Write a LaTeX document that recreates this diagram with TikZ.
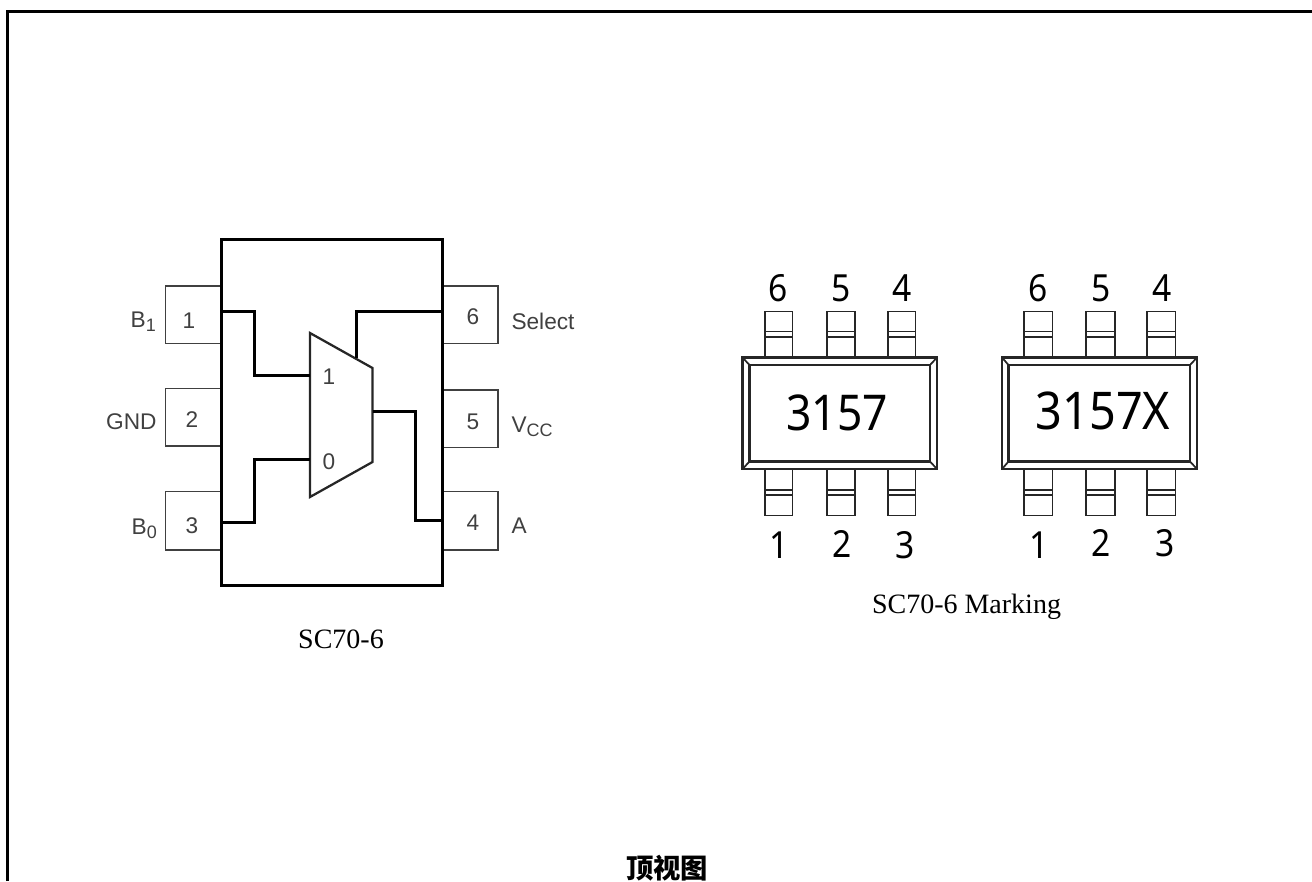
\documentclass[tikz,border=0pt]{standalone}
\usepackage{fontspec}
\setmainfont{Liberation Serif}
\setsansfont{Liberation Sans}
\newfontfamily\markfont[FakeStretch=0.9]{Noto Sans}
\newfontfamily\cjk{Noto Sans CJK SC}
\newcommand{\pinsub}[1]{$_{\mbox{\fontsize{13.5}{15}\selectfont #1}}$}
\tikzset{every picture/.style={line width=0.75pt}}
\tikzset{
	body/.style={line width=2.2pt},
	wire/.style={line width=2.2pt},
	pinbox/.style={draw=black!75,line width=1pt},
	lead/.style={draw=black!85,line width=1.3pt},
	case/.style={draw=black!85,line width=1.8pt},
	pinlabel/.style={inner sep=0pt,font=\sffamily\fontsize{17}{19}\selectfont,text=black!75},
	marknum/.style={inner sep=0.75pt,font=\markfont\fontsize{28}{31}\selectfont},
	marktext/.style={inner sep=0.75pt,font=\markfont\fontsize{37}{40}\selectfont},
	caption/.style={inner sep=0.75pt,font=\fontsize{21}{23}\selectfont},
}

\begin{document}
\begin{tikzpicture}[x=0.75pt,y=0.75pt,yscale=-1,xscale=1]
	\useasboundingbox (0,0) rectangle (1312,881);

	%Shape: Frame
	\draw [line width=2.2pt] (7.5,881) -- (7.5,11.5) -- (1312,11.5);

	%Shape: Left pins
	\draw [pinbox] (222,286) -- (165.5,286) -- (165.5,343.5) -- (222,343.5);
	\draw [pinbox] (222,388.5) -- (165.5,388.5) -- (165.5,446) -- (222,446);
	\draw [pinbox] (222,491.5) -- (165.5,491.5) -- (165.5,550) -- (222,550);
	%Shape: Right pins
	\draw [pinbox] (442,286) -- (498,286) -- (498,343.5) -- (442,343.5);
	\draw [pinbox] (442,390) -- (498,390) -- (498,447.5) -- (442,447.5);
	\draw [pinbox] (442,491.5) -- (498,491.5) -- (498,550) -- (442,550);
	%Shape: Package
	\draw [body] (221.5,239.5) rectangle (442.5,585.5);

	%Shape: Mux
	\draw [line width=1.7pt,draw=black!85] (310,333) -- (372.5,368) -- (372.5,462) -- (310,497) -- cycle;
	\coordinate (muxone) at (310,375.5);
	\coordinate (muxzero) at (310,459.5);
	\coordinate (muxsel) at (356.5,358);
	\coordinate (muxout) at (372.5,411.5);
	\coordinate (pinone) at (222,311.5);
	\coordinate (pinthree) at (222,522.5);
	\coordinate (pinsix) at (442,311.5);
	\coordinate (pinfour) at (442,520.5);
	%Shape: Wires
	\draw [wire] (pinone) -| (254.5,375.5) -- (muxone);
	\draw [wire] (pinthree) -| (254.5,459.5) -- (muxzero);
	\draw [wire] (pinsix) -| (muxsel);
	\draw [wire] (pinfour) -| (415.5,411.5) -- (muxout);

	% Text Node
	\node [pinlabel] (numone) at (189,321) {1};
	\node [pinlabel] (numtwo) at (192,420) {2};
	\node [pinlabel] (numthree) at (192,526) {3};
	\node [pinlabel] (numsix) at (473,317) {6};
	\node [pinlabel] (numfive) at (473,422) {5};
	\node [pinlabel] (numfour) at (473,523) {4};
	\node [pinlabel] (muxlabelone) at (329,377) {1};
	\node [pinlabel] (muxlabelzero) at (329,462) {0};
	\node [pinlabel,anchor=base east] (labelbone) at (157,327) {B\pinsub{1}};
	\node [pinlabel,anchor=base east] (labelgnd) at (157,429) {GND};
	\node [pinlabel,anchor=base east] (labelbzero) at (158,534) {B\pinsub{0}};
	\node [pinlabel,anchor=base west] (labelsel) at (511,329) {Select};
	\node [pinlabel,anchor=base west] (labelvcc) at (511,432) {V\pinsub{CC}};
	\node [pinlabel,anchor=base west] (labela) at (511,533) {A};
	\node [caption] (captionleft) at (341,639) {SC70-6};

	%Shape: Marking one, leads
	\draw [lead] (765,357) -- (765,311.5) -- (792.5,311.5) -- (792.5,357) (765,331.5) -- (792.5,331.5) (765,337) -- (792.5,337);
	\draw [lead] (827,357) -- (827,311.5) -- (855,311.5) -- (855,357) (827,331.5) -- (855,331.5) (827,337) -- (855,337);
	\draw [lead] (888,357) -- (888,311.5) -- (915.5,311.5) -- (915.5,357) (888,331.5) -- (915.5,331.5) (888,337) -- (915.5,337);
	\draw [lead] (765,469) -- (765,515.5) -- (792.5,515.5) -- (792.5,469) (765,490) -- (792.5,490) (765,495) -- (792.5,495);
	\draw [lead] (827,469) -- (827,515.5) -- (855,515.5) -- (855,469) (827,490) -- (855,490) (827,495) -- (855,495);
	\draw [lead] (888,469) -- (888,515.5) -- (915.5,515.5) -- (915.5,469) (888,490) -- (915.5,490) (888,495) -- (915.5,495);
	%Shape: Marking one, case
	\draw [case] (742.5,357.5) rectangle (937,469);
	\draw [case] (749.5,365) rectangle (930,461.5);
	\draw [lead] (742.5,357.5) -- (749.5,365) (937,357.5) -- (930,365) (742.5,469) -- (749.5,461.5) (937,469) -- (930,461.5);

	%Shape: Marking two, leads
	\draw [lead] (1024,357) -- (1024,311.5) -- (1052.5,311.5) -- (1052.5,357) (1024,331.5) -- (1052.5,331.5) (1024,337) -- (1052.5,337);
	\draw [lead] (1086,357) -- (1086,311.5) -- (1115,311.5) -- (1115,357) (1086,331.5) -- (1115,331.5) (1086,337) -- (1115,337);
	\draw [lead] (1147,357) -- (1147,311.5) -- (1175.5,311.5) -- (1175.5,357) (1147,331.5) -- (1175.5,331.5) (1147,337) -- (1175.5,337);
	\draw [lead] (1024,469) -- (1024,515.5) -- (1052.5,515.5) -- (1052.5,469) (1024,490) -- (1052.5,490) (1024,495) -- (1052.5,495);
	\draw [lead] (1086,469) -- (1086,515.5) -- (1115,515.5) -- (1115,469) (1086,490) -- (1115,490) (1086,495) -- (1115,495);
	\draw [lead] (1147,469) -- (1147,515.5) -- (1175.5,515.5) -- (1175.5,469) (1147,490) -- (1175.5,490) (1147,495) -- (1175.5,495);
	%Shape: Marking two, case
	\draw [case] (1002,357.5) rectangle (1197,469);
	\draw [case] (1008.5,365) rectangle (1190,461.5);
	\draw [lead] (1002,357.5) -- (1008.5,365) (1197,357.5) -- (1190,365) (1002,469) -- (1008.5,461.5) (1197,469) -- (1190,461.5);

	% Text Node
	\node [marknum] (topsix) at (778,288) {6};
	\node [marknum] (topfive) at (841,288) {5};
	\node [marknum] (topfour) at (902,288) {4};
	\node [marknum] (botone) at (779,545) {1};
	\node [marknum] (bottwo) at (842,544) {2};
	\node [marknum] (botthree) at (905,545) {3};
	\node [marktext] (markone) at (837,413) {3157};
	\node [marknum] (toptwosix) at (1038,288) {6};
	\node [marknum] (toptwofive) at (1101,288) {5};
	\node [marknum] (toptwofour) at (1162,288) {4};
	\node [marknum] (bottwoone) at (1039,545) {1};
	\node [marknum] (bottwotwo) at (1101,543) {2};
	\node [marknum] (bottwothree) at (1165,543) {3};
	\node [marktext,font=\markfont\fontsize{39}{42}\selectfont] (marktwo) at (1103,411) {3157X};
	\node [caption] (captionright) at (966.5,607) {SC70-6 Marking};
	\node [inner sep=0.75pt,font=\cjk\bfseries\fontsize{20.5}{23}\selectfont] (viewlabel) at (667,868) {顶视图};
\end{tikzpicture}
\end{document}
